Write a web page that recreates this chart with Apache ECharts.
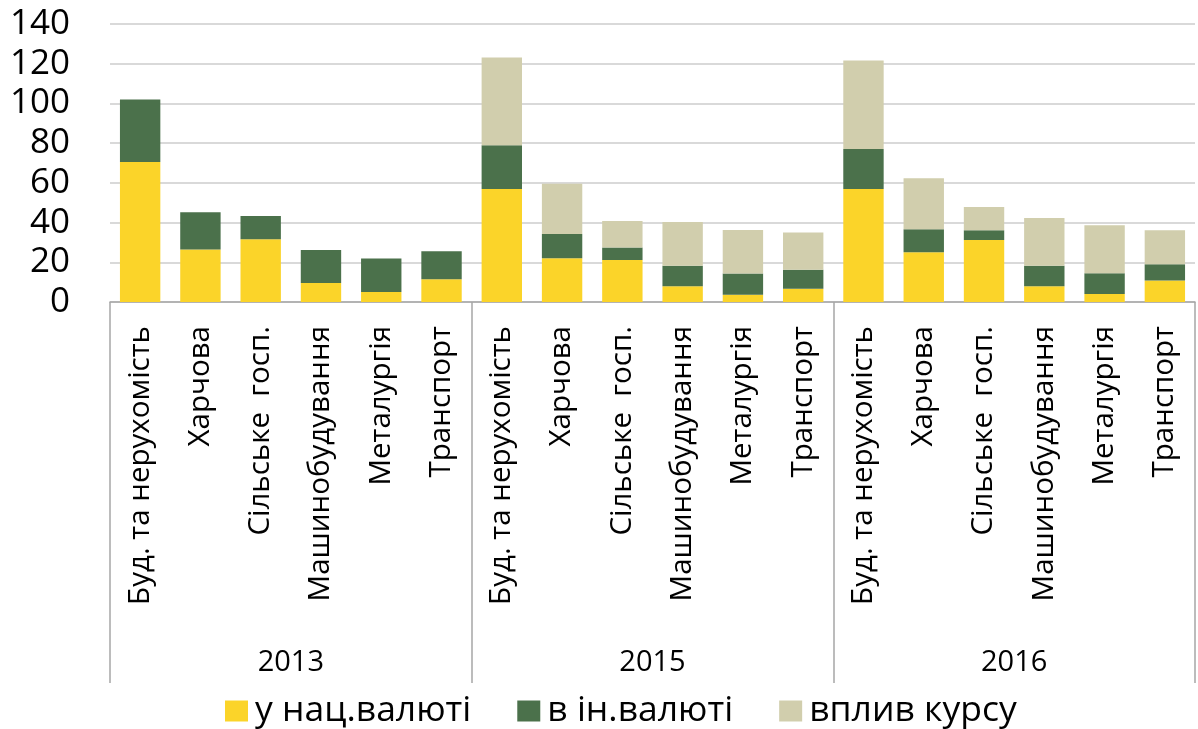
<!DOCTYPE html>
<html>
<head>
<meta charset="utf-8">
<script src="https://cdn.jsdelivr.net/npm/echarts@6/dist/echarts.min.js"></script>
<style>
	html, body { margin: 0; padding: 0; background: #fff; }
	#credit { width: 1198px; height: 729px; }
</style>
</head>
<body>
<div id="credit"></div>
<script>
var years = [ '2013', '2015', '2016' ];
var sectors = [ 'Буд. та нерухомість', 'Харчова', 'Сільське  госп.', 'Машинобудування', 'Металургія', 'Транспорт' ];
var yTicks = [ 0, 20, 40, 60, 80, 100, 120, 140 ];

// значення по роках: 2013, 2015, 2016 (по 6 галузей)
var natCurrency = [ 70.5, 26.4, 31.6, 9.6, 5.0, 11.4,
	56.9, 22.0, 21.2, 7.9, 3.7, 6.7,
	56.9, 25.0, 31.2, 7.9, 4.0, 10.8 ];
var foreignCurrency = [ 31.5, 18.8, 11.7, 16.6, 16.9, 14.1,
	22.0, 12.3, 6.2, 10.4, 10.6, 9.6,
	20.2, 11.6, 4.9, 10.4, 10.5, 8.2 ];
var rateEffect = [ 0, 0, 0, 0, 0, 0,
	44.2, 25.3, 13.4, 22.0, 22.0, 18.7,
	44.5, 25.7, 11.8, 24.0, 24.1, 17.1 ];

var seriesNames = [ 'у нац.валюті', 'в ін.валюті', 'вплив курсу' ];
var colors = [ '#fbd429', '#4b714b', '#d1cead' ];

function credit() {
	var myChart = echarts.init(document.getElementById('credit'));
	var categories = [];
	years.forEach(function(y) {
		sectors.forEach(function(s) {
			categories.push(s);
		});
	});
	var font = 'Open Sans';
	var option = {
		animation : false,
		textStyle : {
			fontFamily : font
		},
		color : colors,
		grid : {
			left : 110,
			right : 3,
			top : 24,
			bottom : 427,
			containLabel : false
		},
		legend : {
			data : seriesNames,
			left : 220,
			top : 688,
			itemWidth : 23,
			itemHeight : 21,
			itemGap : 46,
			icon : 'rect',
			textStyle : {
				fontSize : 35.5,
				color : '#000',
				fontFamily : font,
				padding : [ 0, 0, 0, 2 ]
			}
		},
		xAxis : [ {
			type : 'category',
			data : categories,
			axisLine : {
				lineStyle : {
					color : '#a6a6a6',
					width : 1.5
				}
			},
			axisTick : {
				show : false
			},
			axisLabel : {
				interval : 0,
				rotate : 90,
				margin : 24,
				fontSize : 29.5,
				color : '#000',
				fontFamily : font
			}
		}, {
			type : 'category',
			data : years,
			position : 'bottom',
			axisLine : {
				show : false
			},
			axisTick : {
				show : true,
				length : 381,
				lineStyle : {
					color : '#a6a6a6',
					width : 1.5
				}
			},
			axisLabel : {
				margin : 346,
				fontSize : 29,
				color : '#000',
				fontFamily : font
			}
		} ],
		yAxis : [ {
			type : 'value',
			min : yTicks[0],
			max : yTicks[yTicks.length - 1],
			interval : 20,
			axisLine : {
				show : false
			},
			axisTick : {
				show : false
			},
			splitLine : {
				lineStyle : {
					color : '#d9d9d9',
					width : 2
				}
			},
			axisLabel : {
				margin : 40,
				fontSize : 35,
				color : '#000',
				fontFamily : font
			}
		} ],
		series : [ {
			name : seriesNames[0],
			type : 'bar',
			stack : 'total',
			barCategoryGap : '33%',
			data : natCurrency
		}, {
			name : seriesNames[1],
			type : 'bar',
			stack : 'total',
			barCategoryGap : '33%',
			data : foreignCurrency
		}, {
			name : seriesNames[2],
			type : 'bar',
			stack : 'total',
			barCategoryGap : '33%',
			data : rateEffect
		} ]
	};
	myChart.setOption(option);
}
credit();
</script>
</body>
</html>
